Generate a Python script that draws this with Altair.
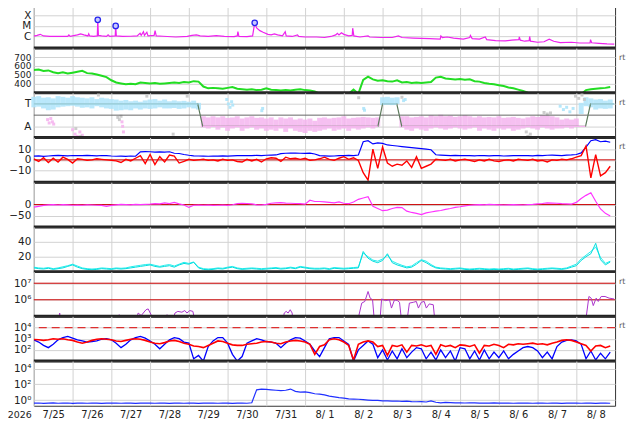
import altair as alt
import pandas as pd

# ---------------- labels ----------------
DAY_LABELS = ["7/25", "7/26", "7/27", "7/28", "7/29", "7/30", "7/31", "8/ 1",
              "8/ 2", "8/ 3", "8/ 4", "8/ 5", "8/ 6", "8/ 7", "8/ 8"]
YEAR_LABEL = "2026"
RT = "rt"

# sampling times, hours since 2026-07-25 00:00 (3-hourly)
HOURS = list(range(0, 360, 3))

# ---------------- X-ray (log10 W/m2) ----------------
XRAY_H = [0, 2, 4, 6, 10, 16, 21, 21.7, 22.5, 27, 29, 31, 33.5, 34, 34.6, 37, 39.3, 39.6, 40.0, 42,
          45, 46, 47, 50.4, 50.7, 51.1, 55, 60, 64, 65.8, 66.5, 67.9, 68.5, 70, 70.7, 74.5, 75.1, 75.8,
          80, 88, 95, 98, 100.7, 103, 108, 113, 118, 124, 126, 126.4, 127, 132, 135.5, 136.8, 138, 140,
          142, 145, 147, 149, 151, 154, 155.7, 156.3, 160, 163.3, 164, 168, 175, 180, 184, 187, 188,
          189, 190.5, 192, 195, 197.2, 197.5, 198.2, 202, 207, 208, 215, 222, 225.8, 228, 235, 245,
          251.7, 252.1, 253, 256, 260, 266, 270, 270.4, 271.5, 276, 279.6, 280.5, 286, 292, 296, 300.4,
          300.7, 301.3, 304, 306.8, 307.1, 307.6, 312, 316, 319.2, 322, 326, 333, 338, 344.5, 344.8,
          345.5, 350, 355, 359.5]
XRAY_V = [-5.97, -5.9, -5.8, -5.95, -6.0, -6.0, -6.0, -5.85, -6.0, -5.85, -5.75, -5.85, -5.95, -5.75,
          -5.95, -6.0, -5.95, -4.43, -5.9, -5.95, -6.0, -5.85, -6.0, -5.95, -5.0, -5.95, -6.0, -5.98,
          -5.95, -5.7, -5.9, -5.55, -5.9, -5.6, -5.95, -5.9, -5.45, -5.95, -5.98, -6.05, -6.0, -5.9,
          -5.85, -5.95, -6.0, -5.92, -6.0, -6.02, -5.95, -5.55, -6.0, -6.02, -5.95, -4.71, -5.2, -5.45,
          -5.6, -5.8, -5.85, -5.75, -5.85, -5.95, -5.55, -5.95, -6.0, -5.85, -6.0, -6.05, -6.05, -6.1,
          -6.0, -5.85, -5.7, -5.85, -5.65, -5.8, -5.95, -5.9, -5.22, -5.95, -6.05, -5.95, -6.05, -6.1,
          -6.1, -5.95, -6.1, -6.15, -6.2, -6.25, -5.95, -6.1, -6.05, -6.15, -6.25, -6.1, -5.9, -6.2,
          -6.25, -6.05, -6.3, -6.4, -6.42, -6.35, -6.3, -6.05, -6.35, -6.45, -6.4, -6.0, -6.45, -6.55,
          -6.5, -6.25, -6.45, -6.58, -6.55, -6.62, -6.6, -6.3, -6.6, -6.65, -6.7, -6.72]
FLARE_H = [39.6, 50.7, 136.8]
FLARE_V = [-4.43, -5.0, -4.71]
XRAY_TICKS = [-4, -5, -6]
XRAY_TICK_LABELS = ["X", "M", "C"]

# ---------------- solar wind speed (km/s) ----------------
SPEED = [555, 560, 545, 550, 530, 520, 530, 515,
         525, 535, 545, 520, 515, 505, 490, 475,
         440, 415, 405, 395, 400, 395, 415, 410,
         405, 410, 400, 405, 410, 415, 410, 420,
         415, 430, 425, 370, 350, 355, 350, 345,
         355, 365, 345, 340, 335, 340, 330, 335,
         350, 335, 330, 325, 330, 325, 335, 340,
         330, 325, 315, 290, 285, 285, 285, 285,
         285, 290, 335, 290, 445, 480, 450, 435,
         440, 430, 425, 440, 415, 420, 410, 415,
         410, 415, 420, 470, 480, 460, 455, 450,
         455, 445, 450, 430, 425, 410, 400, 395,
         385, 375, 360, 350, 335, 320, 300, 285,
         280, 280, 280, 280, 280, 280, 280, 280,
         280, 285, 330, 340, 345, 350, 355, 365]
SPEED_TICKS = [700, 600, 500, 400]

# ---------------- IMF sector (T / A) ----------------
SECTOR_HI = [0.82, 0.85, 0.78, 0.8, 0.75, 0.85, 0.82, 0.78,
             0.85, 0.8, 0.78, 0.75, 0.8, 0.72, 0.78, 0.75,
             0.72, 0.7, 0.65, 0.68, 0.62, 0.65, 0.6, 0.66,
             0.7, 0.72, 0.65, 0.7, 0.62, 0.66, 0.62, 0.64,
             0.6, 0.65, 0.55, -0.05, -0.1, -0.05, -0.1, -0.05,
             -0.12, -0.1, -0.05, -0.15, -0.1, -0.05, -0.12, -0.1,
             -0.15, -0.1, -0.2, -0.1, -0.15, -0.1, -0.2, -0.15,
             -0.2, -0.15, -0.25, -0.12, -0.1, -0.15, -0.12, -0.1,
             -0.05, -0.15, -0.12, -0.1, -0.08, -0.1, -0.12, -0.1,
             0.8, 0.82, 0.78, 0.8, -0.05, -0.05, -0.1, -0.08,
             -0.05, -0.1, 0.0, -0.05, 0.02, -0.05, -0.02, -0.08,
             -0.05, 0.0, -0.05, -0.1, -0.05, -0.1, -0.08, -0.1,
             -0.05, -0.12, -0.1, -0.08, -0.12, -0.15, -0.1, -0.05,
             -0.08, 0.0, -0.02, -0.05, -0.1, -0.2, -0.15, -0.2,
             -0.15, 0.55, 0.8, 0.75, 0.7, 0.72, 0.65, 0.7]
SECTOR_LO = [0.35, 0.38, 0.3, 0.22, 0.25, 0.35, 0.38, 0.4,
             0.42, 0.38, 0.33, 0.35, 0.3, 0.4, 0.35, 0.3,
             0.28, 0.2, 0.22, 0.25, 0.22, 0.3, 0.25, 0.3,
             0.28, 0.3, 0.35, 0.3, 0.3, 0.32, 0.28, 0.3,
             0.35, 0.3, 0.25, -0.55, -0.6, -0.5, -0.65, -0.55,
             -0.7, -0.6, -0.55, -0.7, -0.6, -0.55, -0.65, -0.6,
             -0.7, -0.65, -0.7, -0.6, -0.75, -0.6, -0.7, -0.75,
             -0.8, -0.7, -0.75, -0.7, -0.65, -0.6, -0.7, -0.65,
             -0.6, -0.7, -0.6, -0.65, -0.6, -0.55, -0.6, -0.5,
             0.45, 0.5, 0.45, 0.5, -0.55, -0.65, -0.7, -0.6,
             -0.65, -0.7, -0.6, -0.55, -0.6, -0.65, -0.6, -0.55,
             -0.6, -0.65, -0.6, -0.55, -0.7, -0.6, -0.65, -0.7,
             -0.6, -0.65, -0.6, -0.7, -0.65, -0.6, -0.55, -0.6,
             -0.65, -0.55, -0.6, -0.65, -0.6, -0.6, -0.55, -0.6,
             -0.5, 0.05, 0.4, 0.35, 0.25, 0.3, 0.28, 0.3]
OUT_H = [8.5, 9.5, 10.5, 11.5, 12.3, 24, 25.5, 27, 28.5, 30, 26, 29, 52, 53, 54, 54.6, 55, 55.5,
         86.3, 40, 70, 95, 119.5, 120.5, 121.5, 122.5, 123.2, 141.7, 141.2, 201.2, 204.3, 204.8,
         228, 229, 230, 305, 306, 307.5, 316, 318, 320, 326, 328, 330, 332, 334, 335.5, 337.5,
         339.5, 341]
OUT_V = [-0.2, -0.35, -0.15, -0.3, -0.4, -0.65, -0.85, -0.95, -0.75, -0.9, -0.6, -0.95, -0.1, -0.2,
         -0.05, -0.3, -0.5, -0.75, -0.85, 0.9, 0.85, 0.85, 0.7, 0.5, 0.35, 0.6, 0.45, 0.3, 0.2, 0.78,
         0.3, 0.22, 0.8, 0.65, 0.7, -0.75, -0.95, -0.85, 0.12, 0.05, 0.1, 0.4, 0.25, 0.35, 0.15, 0.3,
         0.85, 0.75, 0.9, 0.7]
OUT_K = ["A", "A", "A", "A", "A", "A", "A", "A", "A", "A", "G", "G", "G", "G", "G", "A", "A", "A",
         "G", "G", "G", "G", "T", "T", "T", "T", "T", "T", "T", "G", "T", "T", "G", "T", "T", "G",
         "G", "G", "G", "G", "G", "T", "T", "T", "T", "T", "G", "G", "G", "G"]
SECTOR_H = [0, 101.5, 104.6, 213.1, 216.0, 224.8, 227.9, 341.7, 344.8, 359.4]
SECTOR_V = [0.5, 0.5, -0.5, -0.5, 0.5, 0.5, -0.5, -0.5, 0.5, 0.5]
SEG_START = [0, 104.6, 216.0, 227.9, 344.8]
SEG_END = [101.5, 213.1, 224.8, 341.7, 359.4]
SEG_LEVEL = [0.5, -0.5, 0.5, -0.5, 0.5]
SEG_STATE = ["T", "A", "T", "A", "T"]
SECTOR_TICKS = [0.5, -0.5]
SECTOR_TICK_LABELS = ["T", "A"]

# ---------------- IMF Bt / Bz (nT) ----------------
BT = [3.5, 3.8, 3.2, 3.6, 4.0, 4.2, 4.0, 3.8,
      4.1, 4.0, 3.9, 4.2, 4.0, 3.8, 4.1, 4.0,
      3.6, 3.4, 3.5, 3.3, 3.6, 3.4, 7.5, 7.8,
      7.6, 7.2, 7.5, 7.3, 7.6, 6.2, 6.0, 5.0,
      4.3, 3.8, 3.6, 3.5, 3.4, 3.6, 3.5, 3.7,
      3.5, 3.8, 4.0, 4.1, 3.9, 4.0, 4.2, 4.0,
      4.3, 4.5, 4.6, 5.8, 6.2, 6.3, 6.4, 6.2,
      6.0, 6.3, 5.5, 4.0, 3.8, 3.5, 3.6, 4.0,
      3.9, 4.2, 4.0, 4.5, 17.0, 18.0, 15.0, 16.0,
      15.5, 14.0, 13.5, 13.0, 12.5, 12.0, 11.5, 11.0,
      10.5, 10.0, 9.5, 4.8, 4.5, 4.3, 4.0, 4.2,
      4.0, 3.9, 4.0, 3.8, 4.1, 4.0, 3.7, 3.9,
      4.0, 3.6, 3.8, 4.0, 3.9, 4.1, 4.0, 3.8,
      4.2, 4.0, 4.3, 4.5, 4.2, 4.0, 4.4, 4.6,
      5.0, 6.5, 12.0, 18.0, 19.0, 17.0, 17.5, 16.5]
BZ = [1.0, -1.5, 2.0, -2.5, 1.5, -2.0, 2.5, 0.5,
      -3.0, 1.0, 0.5, -0.5, 0.0, 1.0, 0.5, 0.0,
      -0.5, -1.0, -2.5, 0.5, -1.0, 1.5, 4.0, -3.5,
      5.0, -4.5, 3.0, -2.0, 4.5, 3.5, -3.0, -1.5,
      0.5, -0.5, 0.0, 0.5, -0.5, 0.0, -1.0, 0.5,
      -0.5, 0.0, -1.5, -2.0, 0.5, -1.0, 0.5, -2.0,
      1.0, 2.0, 1.5, -1.5, 2.5, 1.0, 1.5, 0.5,
      1.5, -0.5, 0.0, 1.0, 2.5, 0.5, -0.5, 1.5,
      3.0, 0.5, 2.0, -0.5, -12.0, -19.0, 10.0, -8.0,
      12.0, -3.0, -6.0, -4.0, -5.0, -1.0, -7.0, 3.0,
      -8.0, -6.0, -4.0, 0.5, 0.0, -0.5, 0.5, -1.0,
      0.0, 0.5, -0.5, -1.5, 0.0, -1.0, 0.5, -1.0,
      -1.5, -0.5, 0.0, -1.0, 0.5, 0.0, -0.5, 0.5,
      -1.0, -0.5, -2.0, 0.0, -0.5, 0.5, 0.0, 1.0,
      2.5, 4.0, 13.0, -17.0, 5.0, -15.0, -12.0, -6.0]
IMF_TICKS = [10, 0, -10]
IMF_TICK_LABELS = ["10", "0", "\u221210"]

# ---------------- Dst (nT) ----------------
DST = [-12, -8, -4, -1, 0, -2, 0, -1,
       -3, -2, -3, -1, -2, -3, -4, -8,
       -4, -1, 1, 0, -1, 1, 0, 1,
       2, 4, 3, 8, 4, 10, 3, -2,
       -13, -3, -2, -3, -2, -4, -3, -2,
       -4, -1, 4, 6, 5, 3, -1, -2,
       1, 6, 8, 9, 7, 6, 5, 4,
       2, 20, 14, 14, 12, 10, 8, 12,
       6, 4, 12, 24, 30, 36, -8, -18,
       -28, -25, -18, -13, -14, -30, -36, -40,
       -46, -38, -34, -30, -27, -22, -18, -13,
       -10, -6, -3, -1, 0, -1, 1, 0,
       -1, -2, -1, 0, -1, -2, 0, 1,
       3, 5, 8, 7, 6, 4, 3, 2,
       10, 28, 42, 54, 15, -20, -40, -52]
DST_TICKS = [0, -50]
DST_TICK_LABELS = ["0", "\u221250"]

# ---------------- density (/cc), two traces ----------------
DENS1 = [5, 4, 3.5, 4.5, 3, 4, 5, 7,
         9, 6, 4, 3, 2.5, 3, 4, 3.5,
         3, 4, 3.5, 4, 5, 6, 7, 8,
         9, 7, 6, 7, 8, 6, 9, 11,
         10, 12.5, 5, 3, 2.5, 3, 4, 3.5,
         5, 6, 4, 3, 3.5, 4, 3.5, 3,
         3.5, 4, 4.5, 3.5, 4, 5, 4, 6,
         5, 4, 3.5, 3.5, 4, 3, 4.5, 4,
         3.5, 4, 4.5, 5, 27, 18, 14, 12,
         15, 24, 12, 9, 7, 5, 6, 10,
         15, 12, 8, 5, 4, 3.5, 3, 3.5,
         4, 3, 2.5, 3, 3.5, 3, 2.5, 3,
         2.5, 3, 3.5, 2.5, 3, 3.5, 4, 3,
         2.5, 3, 3.5, 4, 3.5, 3, 4, 6,
         8, 15, 20, 24, 38, 16, 9, 13]
DENS2 = [6, 5, 4.5, 5.5, 4, 5, 6.5, 8,
         10, 7.5, 5, 4, 3.5, 4, 5, 4.5,
         4, 5, 4.5, 5, 6.5, 7.5, 8.5, 9.5,
         10, 8.5, 7, 8.5, 9.5, 7.5, 10, 12.5,
         11, 13, 6, 4, 3.5, 4, 5, 4.5,
         6, 7, 5, 4, 4.5, 5, 4.5, 4,
         4.5, 5, 5.5, 4.5, 5, 6, 5, 7,
         6, 5, 4.5, 4.5, 5, 4, 5.5, 5,
         4.5, 5, 5.5, 6, 25, 20, 15.5, 14,
         17, 22, 14, 11, 8.5, 6.5, 7.5, 12,
         16, 14, 9.5, 6, 5, 4.5, 4, 4.5,
         5, 4, 3.5, 4, 4.5, 4, 3.5, 4,
         3.5, 4, 4.5, 3.5, 4, 4.5, 5, 4,
         3.5, 4, 4.5, 5, 4.5, 4, 5, 7.5,
         10, 17, 22, 27, 33, 19, 11, 14]
DENS_TICKS = [40, 20]

# ---------------- particle flux (log10) ----------------
PROTON_H = [0, 14.8, 16.0, 17.2, 51.7, 52.9, 54.8, 62.8, 64.6, 66.5, 69.5, 70.8, 72.6, 73.8,
            81.2, 82.5, 83.7, 85.5, 87.4, 89.2, 91.7, 93.5, 94.8, 96.6, 98.5, 100.3,
            153.9, 155.1, 156.3, 157.5, 158.8, 160, 160.6,
            200, 203.1, 205, 207, 208.3, 209.8, 211.1,
            214.2, 215.4, 217.8, 220.3, 221.5, 223.4, 225.2, 226.5, 228,
            230.8, 232.6, 235.1, 236.9, 238.2, 240, 241.8, 243.1, 244.9, 247.4, 248.6,
            341.5, 343.8, 345.2, 346.5, 348.3, 349.6, 351.4, 353.8, 356.3, 359.4]
PROTON_V = [4.5, 4.5, 5.2, 4.5, 4.5, 5.1, 4.5, 4.5, 5.2, 5.05, 5.4, 5.45, 5.1, 4.5,
            4.5, 5.1, 4.5, 4.5, 5.2, 5.3, 5.25, 5.35, 5.2, 5.35, 5.3, 4.5,
            4.5, 5.2, 5.3, 5.2, 5.4, 5.2, 4.5,
            4.5, 5.8, 5.9, 6.5, 6.1, 6.0, 4.5,
            4.5, 6.05, 5.95, 6.0, 5.5, 6.0, 5.95, 5.85, 4.5,
            4.5, 5.8, 5.85, 5.9, 5.5, 5.85, 5.9, 5.5, 5.75, 5.7, 4.5,
            4.5, 6.2, 6.1, 5.65, 6.1, 5.9, 6.2, 6.2, 6.1, 6.05]
PROTON_TICKS = [7, 6]
PROTON_TICK_LABELS = ["10\u2077", "10\u2076"]

ELEC_BLUE = [2.9, 2.7, 2.4, 2.2, 2.5, 2.9, 3.1, 3.2,
             3.05, 2.9, 2.8, 2.7, 2.75, 2.8, 2.95, 3.0,
             2.9, 2.6, 2.2, 2.5, 2.9, 3.1, 3.2, 3.05,
             2.8, 2.5, 2.1, 2.5, 2.9, 3.1, 3.0, 2.7,
             2.6, 1.2, 1.5, 1.0, 2.3, 2.8, 3.1, 3.1,
             2.6, 1.6, 1.0, 1.4, 2.6, 2.8, 3.0, 2.9,
             2.75, 2.7, 2.6, 2.2, 2.6, 2.9, 3.1, 3.05,
             2.8, 2.5, 1.9, 1.4, 2.2, 3.0, 3.1, 3.1,
             2.8, 2.5, 1.0, 2.0, 2.4, 2.8, 2.5, 1.3,
             2.0, 1.1, 1.9, 1.2, 2.1, 1.3, 1.8, 2.2,
             2.1, 1.2, 1.8, 1.1, 2.0, 1.3, 1.9, 1.0,
             2.2, 2.1, 1.2, 1.9, 1.1, 2.0, 1.2, 1.8,
             1.3, 1.9, 1.2, 1.6, 1.9, 2.2, 2.3, 2.2,
             1.9, 1.3, 1.8, 1.2, 2.3, 2.7, 2.85, 2.9,
             2.8, 2.5, 1.2, 1.9, 1.1, 1.7, 1.2, 1.8]
ELEC_RED = [2.93, 2.9, 2.85, 2.9, 3.0, 2.95, 3.0, 2.9,
            2.85, 2.7, 2.6, 2.7, 2.85, 2.95, 3.0, 2.95,
            2.9, 2.8, 2.75, 2.85, 2.95, 3.0, 2.95, 2.85,
            2.7, 2.6, 2.55, 2.65, 2.8, 2.85, 2.75, 2.6,
            2.5, 2.35, 2.3, 2.2, 2.4, 2.6, 2.8, 2.75,
            2.6, 2.45, 2.4, 2.4, 2.5, 2.55, 2.6, 2.7,
            2.75, 2.7, 2.6, 2.55, 2.7, 2.8, 2.85, 2.8,
            2.7, 2.5, 1.6, 2.3, 2.45, 2.9, 3.0, 2.9,
            2.7, 2.4, 1.1, 2.5, 2.7, 2.8, 2.7, 2.3,
            2.4, 1.5, 2.4, 2.3, 2.45, 1.8, 2.4, 2.35,
            2.45, 2.3, 2.4, 1.6, 2.45, 2.3, 2.4, 2.2,
            2.45, 2.4, 2.3, 2.45, 1.7, 2.4, 2.35, 2.5,
            2.4, 2.2, 2.5, 2.45, 2.55, 2.5, 2.55, 2.6,
            2.5, 2.55, 2.45, 2.6, 2.7, 2.85, 2.9, 2.85,
            2.7, 2.55, 2.4, 1.9, 2.35, 2.4, 2.2, 2.35]
ELEC_TICKS = [4, 3, 2]
ELEC_TICK_LABELS = ["10\u2074", "10\u00b3", "10\u00b2"]
ELEC_ALERT = [4]

HIGH = [-0.4, -0.38, -0.42, -0.4, -0.37, -0.41, -0.4, -0.38,
        -0.42, -0.4, -0.39, -0.41, -0.38, -0.4, -0.42, -0.39,
        -0.4, -0.38, -0.41, -0.4, -0.39, -0.42, -0.4, -0.38,
        -0.4, -0.41, -0.38, -0.4, -0.42, -0.39, -0.4, -0.41,
        -0.38, -0.4, -0.42, -0.39, -0.4, -0.38, -0.41, -0.4,
        -0.39, -0.42, -0.4, -0.38, -0.41, -0.35, 1.3, 1.4,
        1.35, 1.3, 1.25, 1.2, 1.25, 1.4, 1.1, 1.0,
        1.05, 0.95, 0.8, 0.75, 0.65, 0.5, 0.4, 0.3,
        0.25, 0.15, 0.12, 0.1, 0.05, 0.0, -0.05, -0.05,
        -0.1, -0.1, -0.15, -0.12, -0.18, -0.15, -0.2, -0.22,
        -0.2, -0.25, -0.1, -0.28, -0.35, -0.3, -0.33, -0.35,
        -0.36, -0.38, -0.35, -0.37, -0.39, -0.38, -0.4, -0.37,
        -0.39, -0.38, -0.4, -0.41, -0.38, -0.4, -0.39, -0.41,
        -0.4, -0.38, -0.41, -0.39, -0.4, -0.42, -0.39, -0.4,
        -0.38, -0.41, -0.4, -0.39, -0.42, -0.4, -0.39, -0.41]
HIGH_TICKS = [4, 2, 0]
HIGH_TICK_LABELS = ["10\u2074", "10\u00b2", "10\u2070"]

# ---------------- layout / style ----------------
W, H = 585, 45
FONT = "DejaVu Sans"
GRID = "#d2d2d2"
TXT = "#222222"
XS = alt.Scale(domain=[0, 360], nice=False, zero=False)
MIDNIGHTS = list(range(0, 360, 24))
LABEL_EXPR = "[" + ",".join("'%s'" % s for s in DAY_LABELS) + "][round(datum.value / 24)]"
ONE = pd.DataFrame({"z": [0]})


def tick_expr(values, labels):
    expr = "''"
    for v, lab in reversed(list(zip(values, labels))):
        expr = "datum.value == %s ? '%s' : (%s)" % (v, lab, expr)
    return expr


def X(bottom=False):
    return alt.X("h:Q", scale=XS, axis=alt.Axis(
        values=MIDNIGHTS, grid=True, gridColor=GRID, ticks=False, domain=False,
        labels=bottom, labelExpr=LABEL_EXPR, labelOffset=19.5, labelFlush=False,
        labelOverlap=False, labelPadding=4, labelFontSize=10, labelFont=FONT,
        labelColor=TXT, title=None))


def Y(domain, values, labels=None, size=10.5):
    kw = dict(values=values, grid=True, gridColor=GRID, ticks=False, domain=False,
              labelOverlap=False, labelPadding=3, labelFontSize=size, labelFont=FONT,
              labelColor=TXT, title=None)
    if labels is not None:
        kw["labelExpr"] = tick_expr(values, labels)
    return alt.Y("v:Q", scale=alt.Scale(domain=domain, nice=False, zero=False), axis=alt.Axis(**kw))


def line(h, v, color, x, y, width=1.0):
    df = pd.DataFrame({"h": h, "v": v})
    return alt.Chart(df).mark_line(color=color, strokeWidth=width, clip=True).encode(x=x, y=y)


def hrule(vals, y, color, dash=None, width=1.0):
    kw = dict(color=color, strokeWidth=width)
    if dash:
        kw["strokeDash"] = dash
    return alt.Chart(pd.DataFrame({"v": vals})).mark_rule(**kw).encode(y=y)


def sep():
    return alt.Chart(ONE).mark_rule(color="#222222", strokeWidth=3).encode(
        x=alt.value(0), x2=alt.value(W), y=alt.value(H))


def rt():
    return alt.Chart(ONE).mark_text(text=RT, align="left", baseline="middle", fontSize=8,
                                    font=FONT, color="#555555").encode(
        x=alt.value(W + 4), y=alt.value(10))


def panel(*layers):
    return alt.layer(*layers).properties(width=W, height=H)


# P1 X-ray
x1, y1 = X(), Y([-7.1, -2.87], XRAY_TICKS, XRAY_TICK_LABELS)
p1 = panel(
    line(XRAY_H, XRAY_V, "#ee22ee", x1, y1, 1.2),
    alt.Chart(pd.DataFrame({"h": FLARE_H, "v": FLARE_V})).mark_circle(
        size=30, fill="#c8c8ff", stroke="#2626ee", strokeWidth=1.3, opacity=1).encode(x=x1, y=y1),
    sep())

# P2 speed
x2, y2 = X(), Y([300, 800], SPEED_TICKS, size=9)
p2 = panel(line(HOURS, SPEED, "#22dd22", x2, y2, 2.0), sep(), rt())

# P3 sector
x3, y3 = X(), Y([-1, 1], SECTOR_TICKS, SECTOR_TICK_LABELS)
KIND = alt.Color("k:N", scale=alt.Scale(domain=["T", "A", "G"],
                                        range=["#aee4fa", "#f5b5ee", "#c6c6c6"]), legend=None)
band = alt.Chart(pd.DataFrame({"h": HOURS, "v": SECTOR_HI, "v2": SECTOR_LO})).transform_calculate(
    k="datum.v + datum.v2 > 0 ? 'T' : 'A'").mark_rule(strokeWidth=5, opacity=0.85).encode(
    x=x3, y=y3, y2=alt.Y2("v2:Q"), color=KIND)
outl = alt.Chart(pd.DataFrame({"h": OUT_H, "v": OUT_V, "k": OUT_K})).mark_square(
    size=9, opacity=0.9).encode(x=x3, y=y3, color=KIND)
state = line(SECTOR_H, SECTOR_V, "#5c7a5c", x3, y3, 1.2)
segs = alt.Chart(pd.DataFrame({"h": SEG_START, "h2": SEG_END, "v": SEG_LEVEL, "s": SEG_STATE})).mark_rule(
    strokeWidth=1.4).encode(x=x3, x2=alt.X2("h2:Q"), y=y3,
                            color=alt.Color("s:N", scale=alt.Scale(domain=["T", "A"],
                                                                   range=["#4a62ff", "#ff4040"]),
                                            legend=None))
p3 = panel(band, outl, hrule([0], y3, "#666666"), state, segs, sep(), rt())

# P4 IMF
x4, y4 = X(), Y([-21, 21], IMF_TICKS, IMF_TICK_LABELS)
p4 = panel(hrule([0], y4, "#cc0000"), line(HOURS, BT, "#0000ff", x4, y4, 1.2),
           line(HOURS, BZ, "#ff0000", x4, y4, 1.4), sep(), rt())

# P5 Dst
x5, y5 = X(), Y([-102, 102], DST_TICKS, DST_TICK_LABELS)
p5 = panel(hrule([0], y5, "#cc0000"), line(HOURS, DST, "#ff33ff", x5, y5, 1.2), sep())

# P6 density
x6, y6 = X(), Y([0, 60], DENS_TICKS)
p6 = panel(line(HOURS, DENS2, "#22eeee", x6, y6), line(HOURS, DENS1, "#00dddd", x6, y6), sep())

# P7 protons
x7, y7 = X(), Y([5.0, 7.7], PROTON_TICKS, PROTON_TICK_LABELS)
p7 = panel(hrule(PROTON_TICKS, y7, "#cc0000"), line(PROTON_H, PROTON_V, "#aa33cc", x7, y7),
           sep(), rt())

# P8 electrons
x8, y8 = X(), Y([1.0, 5.0], ELEC_TICKS, ELEC_TICK_LABELS)
p8 = panel(hrule(ELEC_ALERT, y8, "#dd3030", dash=[8, 5], width=1.3),
           line(HOURS, ELEC_BLUE, "#0000ff", x8, y8, 1.3),
           line(HOURS, ELEC_RED, "#ff0000", x8, y8, 1.6),
           sep(), rt())

# P9 high-energy
x9, y9 = X(bottom=True), Y([-0.73, 4.97], HIGH_TICKS, HIGH_TICK_LABELS)
year = alt.Chart(ONE).mark_text(text=YEAR_LABEL, align="right", baseline="middle", fontSize=9.5,
                                font=FONT, color=TXT).encode(x=alt.value(-2), y=alt.value(H + 9.5))
p9 = panel(line(HOURS, HIGH, "#2030ff", x9, y9, 1.2), year)

chart = alt.vconcat(p1, p2, p3, p4, p5, p6, p7, p8, p9, spacing=0, bounds="flush").properties(
    padding={"top": -7, "left": -1, "right": 0, "bottom": 0}
).configure_view(stroke="#333333", strokeWidth=1)

chart.save("out.html", embed_options={"renderer": "svg", "actions": False})
